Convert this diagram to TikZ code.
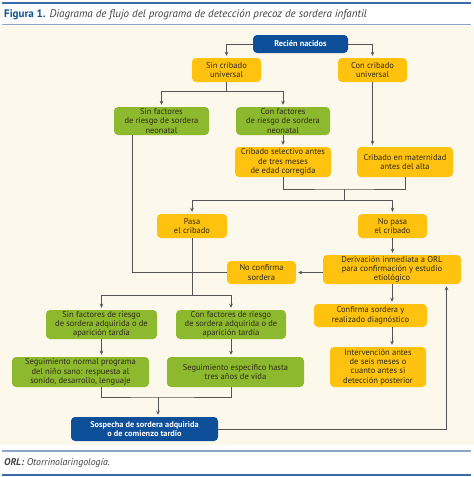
\documentclass[tikz,border=0pt]{standalone}
\usepackage{fontspec}
\setmainfont{PT Sans}
\usepackage{tikz}
\usetikzlibrary{arrows.meta,calc,positioning}
\definecolor{figblue}{RGB}{13,79,152}
\definecolor{figgreen}{RGB}{141,185,46}
\definecolor{figyellow}{RGB}{255,194,15}
\definecolor{bgcream}{RGB}{253,248,236}
\definecolor{rulehead}{RGB}{58,107,168}
\definecolor{rulesoft}{RGB}{139,166,200}
\definecolor{boxtext}{RGB}{45,43,25}
\definecolor{linegray}{RGB}{85,85,85}
\tikzset{FLOW style/.style={
  box/.style={rounded corners=4pt,inner sep=0pt,align=center,text=boxtext,
    font=\fontsize{8.5}{9.3}\selectfont},
  ybox/.style={box,fill=figyellow},
  gbox/.style={box,fill=figgreen},
  bbox/.style={box,fill=figblue,text=white,font=\fontsize{8.3}{9.5}\selectfont\bfseries},
  ln/.style={draw=linegray,line width=0.8pt},
  arr/.style={ln,-{Stealth[length=4pt,width=3.6pt]},shorten >=2pt}}}

\begin{document}
\begin{tikzpicture}[x=1pt,y=-1pt,FLOW style]
		\useasboundingbox (0,0) rectangle (474,477);
		\fill[bgcream] (0,26) rectangle (474,445);
		
		\draw[rulehead,line width=1.8pt] (2,3) -- (471,3);
		\draw[rulesoft,line width=1.6pt] (2,24.5) -- (471,24.5);
		\draw[rulesoft,line width=1.4pt] (2,451) -- (471,451);
		\draw[rulehead,line width=1.8pt] (2,475) -- (471,475);
		
		\node[anchor=west,inner sep=0pt,font=\fontsize{11}{13}\selectfont] (title) at (4,14.5)
			{\textcolor{figblue}{\bfseries Figura 1.} \textcolor{black!75}{\itshape Diagrama de flujo del programa de detección precoz de sordera infantil}};
		\node[anchor=west,inner sep=0pt,font=\fontsize{9.8}{11}\selectfont\itshape,text=black!75] (note) at (4,463)
			{\textbf{ORL:} Otorrinolaringología.};
		
		% first levels
		\node[bbox,minimum width=95,minimum height=18] (rn) at (300.5,44) {Recién nacidos};
		\node[ybox,minimum width=69,minimum height=24] (sinc) at (226.5,70) {Sin cribado\\universal};
		\node[ybox,minimum width=69,minimum height=24] (conc) at (372.5,70) {Con cribado\\universal};
		
		\node[gbox,minimum width=95,minimum height=28] (sfn) at (161.5,121) {Sin factores\\de riesgo de sordera\\neonatal};
		\node[gbox,minimum width=94,minimum height=28] (cfn) at (283,121) {Con factores\\de riesgo de sordera\\neonatal};
		
		\node[ybox,minimum width=96,minimum height=30] (csel) at (283,162) {Cribado selectivo antes\\de tres meses\\de edad corregida};
		\node[ybox,minimum width=96,minimum height=30] (cmat) at (405,162) {Cribado en maternidad\\antes del alta};
		
		\node[ybox,minimum width=70,minimum height=24] (pasa) at (192,226) {Pasa\\el cribado};
		\node[ybox,minimum width=69,minimum height=24] (nopasa) at (392.5,226) {No pasa\\el cribado};
		
		% right branch
		\node[ybox,minimum width=69,minimum height=23] (noconf) at (261.5,272.5) {No confirma\\sordera};
		\node[ybox,minimum width=138,minimum height=29] (deriv) at (392,269.5) {Derivación inmediata a ORL\\para confirmación y estudio\\etiológico};
		\node[ybox,minimum width=113,minimum height=23] (conf) at (370.5,315.5) {Confirma sordera y\\realizado diagnóstico};
		\node[ybox,minimum width=96,minimum height=40] (interv) at (378,367) {Intervención antes\\de seis meses o\\cuanto antes si\\detección posterior};
		
		% left branch
		\node[gbox,minimum width=111,minimum height=29] (sfa) at (101.5,324.5) {Sin factores de riesgo\\de sordera adquirida o de\\aparición tardía};
		\node[gbox,minimum width=110,minimum height=29] (cfa) at (231,324.5) {Con factores de riesgo\\de sordera adquirida o de\\aparición tardía};
		\node[gbox,minimum width=137,minimum height=30] (segn) at (80.5,372) {Seguimiento normal programa\\del niño sano: respuesta al\\sonido, desarrollo, lenguaje};
		\node[gbox,minimum width=137,minimum height=30] (sege) at (235.5,372) {Seguimiento específico hasta\\tres años de vida};
		\node[bbox,minimum width=147,minimum height=24] (sosp) at (144.5,429) {Sospecha de sordera adquirida\\o de comienzo tardío};
		
		% connectors
		\draw[arr] (rn.west) -| (sinc.north);
		\draw[arr] (rn.east) -| (conc.north);
		
		\draw[ln] (sinc.south) -- ++(0,9) coordinate (j1);
		\draw[arr] (j1) -| (sfn.north);
		\draw[arr] (j1) -| (cfn.north);
		
		\draw[arr] (cfn.south) -- (csel.north);
		\draw[arr] (conc.south) -- (conc.south |- cmat.north);
		
		\coordinate (j2) at (344,189);
		\draw[ln] (csel.south) |- (j2) -| (cmat.south);
		\draw[ln] (j2) -- ++(0,11) coordinate (j3);
		\draw[arr] (j3) -| (pasa.north);
		\draw[arr] (j3) -| (nopasa.north);
		
		\draw[ln] ([xshift=-29.5]sfn.south) |- (noconf.west);
		\draw[ln] (pasa.south) -- ++(0,57) coordinate (j4);
		\draw[arr] (j4) -| (sfa.north);
		\draw[arr] (j4) -| (cfa.north);
		
		\draw[arr] (nopasa.south) -- (nopasa.south |- deriv.north);
		\draw[arr] (deriv.west |- noconf.east) -- (noconf.east);
		\draw[arr] (deriv.south) -- (deriv.south |- conf.north);
		\draw[arr] (conf.south -| deriv.south) -- (deriv.south |- interv.north);
		
		\draw[arr] (sfa.south) -- (sfa.south |- segn.north);
		\draw[arr] (cfa.south) -- (cfa.south |- sege.north);
		
		\coordinate (j5) at (158,397);
		\draw[ln] (sfa.south |- segn.south) |- (j5) -| (cfa.south |- sege.south);
		\draw[arr] (j5) -- (j5 |- sosp.north);
		
		\draw[arr] (sosp.east) -| ([xshift=54.5]deriv.south);
		
	\end{tikzpicture}
\end{document}
